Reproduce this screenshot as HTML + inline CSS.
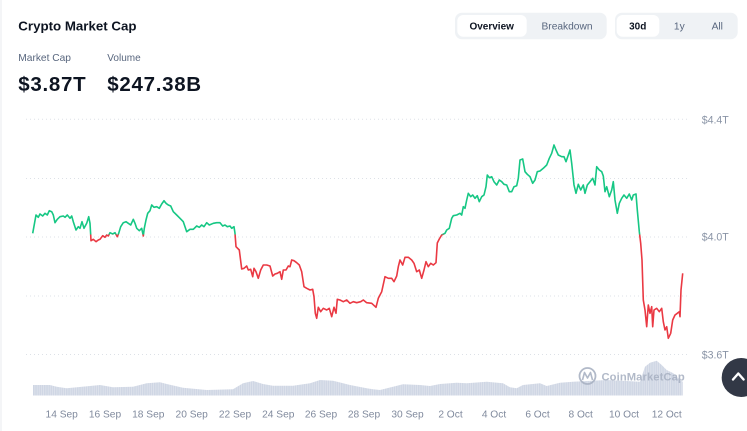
<!DOCTYPE html>
<html><head><meta charset="utf-8"><style>
html,body{margin:0;padding:0;background:#fff;}
body{width:747px;height:431px;overflow:hidden;position:relative;}
svg{position:absolute;left:0;top:0;font-family:"Liberation Sans",Arial,sans-serif;}
</style></head><body>
<svg width="747" height="431" viewBox="0 0 747 431" xmlns="http://www.w3.org/2000/svg">
<defs>
<clipPath id="above"><rect x="0" y="0" width="747" height="234.5"/></clipPath>
<clipPath id="below"><rect x="0" y="234.5" width="747" height="200"/></clipPath>
<pattern id="bars" width="2.2" height="10" patternUnits="userSpaceOnUse"><rect width="2.2" height="10" fill="#cfd6e4"/><rect x="1.6" width="0.6" height="10" fill="#e4e8f0"/></pattern>
</defs>
<rect x="0" y="0" width="2" height="431" fill="#f4f5f7"/>
<!-- header -->
<text x="18.3" y="30.7" font-size="13.3" font-weight="bold" fill="#0d1421">Crypto Market Cap</text>
<text x="18.3" y="61" font-size="10.2" fill="#58667e">Market Cap</text>
<text x="107.3" y="61" font-size="10" fill="#58667e">Volume</text>
<text x="18.3" y="91" font-size="20.5" font-weight="bold" letter-spacing="0.7" fill="#0d1421">$3.87T</text>
<text x="107.3" y="91" font-size="20.5" font-weight="bold" letter-spacing="0.7" fill="#0d1421">$247.38B</text>
<!-- toggles -->
<rect x="455" y="12.7" width="151.7" height="26.6" rx="7" fill="#eff2f5"/>
<rect x="457.3" y="15" width="69.4" height="21.7" rx="6" fill="#fff"/>
<text x="491.7" y="29.5" font-size="10" font-weight="bold" text-anchor="middle" fill="#0d1421">Overview</text>
<text x="567" y="29.5" font-size="10.2" text-anchor="middle" fill="#58667e">Breakdown</text>
<rect x="615" y="12.7" width="122.7" height="26.6" rx="7" fill="#eff2f5"/>
<rect x="616.7" y="15" width="42.6" height="21.7" rx="6" fill="#fff"/>
<text x="637.7" y="29.5" font-size="10" font-weight="bold" text-anchor="middle" fill="#0d1421">30d</text>
<text x="679.3" y="29.5" font-size="10.2" text-anchor="middle" fill="#58667e">1y</text>
<text x="717.3" y="29.5" font-size="10.2" text-anchor="middle" fill="#58667e">All</text>
<!-- grid -->
<g stroke="#dde1e7" stroke-width="1" stroke-dasharray="1 3">
<line x1="26" y1="119.3" x2="690" y2="119.3"/>
<line x1="26" y1="178.5" x2="690" y2="178.5"/>
<line x1="26" y1="237" x2="690" y2="237"/>
<line x1="26" y1="296" x2="690" y2="296"/>
<line x1="26" y1="354.5" x2="690" y2="354.5"/>
</g>
<g font-size="10.6" fill="#8a94a6">
<text x="701.7" y="123.3">$4.4T</text>
<text x="701.7" y="240.7">$4.0T</text>
<text x="701.7" y="358.3">$3.6T</text>
</g>
<!-- volume -->
<path fill="url(#bars)" d="M33,395.5 L33,385 L50,385 L56.7,386.7 L66.7,388.3 L90,386 L100,385 L113,387.3 L133,386.7 L146.7,383.3 L160,382.3 L166.7,384 L183,387.7 L206.7,390 L233,389.3 L243,383.3 L253,381 L263,384 L273,385.7 L293,385.7 L310,383.3 L320,380 L333,380.7 L350,385 L366.7,388.3 L373,389.3 L380,390 L393,386.7 L403,384.3 L420,385 L430,386 L440,384 L456.7,382.7 L466.7,383.3 L486.7,381.7 L503,383.3 L510,387.3 L516.7,388.3 L523,385 L540,383.3 L546.7,386 L560,382.7 L573,381.7 L606.7,380 L640,381.7 L645,366.7 L650,362.7 L656.7,360.7 L661.7,365 L666.7,370 L673.3,373.3 L680,380 L682.7,381.7 L682.7,395.5 Z"/>
<!-- watermark -->
<g opacity="0.9">
<circle cx="587.5" cy="376" r="8" fill="none" stroke="#a9b2c3" stroke-width="1.8"/>
<path d="M582.5,380 L584.5,372.5 L587.5,378 L590.5,372.5 L592.5,380" fill="none" stroke="#a9b2c3" stroke-width="1.6" stroke-linejoin="round"/>
<text x="601.5" y="380.5" font-size="11.2" font-weight="bold" fill="#a9b2c3" letter-spacing="0.1">CoinMarketCap</text>
</g>
<!-- line -->
<g id="ln">
<path id="pth" fill="none" stroke-width="1.6" stroke-linejoin="round" d="M32.7,233.3 L36,215 L38.3,217.3 L40,214 L42.7,216 L45,213.3 L47.3,215 L49.3,210.7 L51.7,211.7 L53.3,215 L55,222.7 L57.3,219.3 L60,216.7 L63.3,216 L65,217.3 L67.3,215 L70,218.3 L71.7,216 L73.3,221.7 L76,230 L78.3,226.7 L80,228.3 L82,221.7 L84,228.3 L86.7,223.3 L88.7,216.7 L90,223.3 L90.7,235 L91,240.7 L93.3,239.3 L96,241.7 L98.3,240 L100,239.3 L102.7,235.7 L105,237.3 L106.7,235 L108.3,236 L110,232.7 L112.7,234 L115,232.7 L117.3,236.7 L118.7,233.3 L120.7,226.7 L123.3,222.7 L126,221.7 L128.3,223.3 L130.7,225 L133.3,219.3 L135,223.3 L136.7,228.3 L139.3,230.7 L141.7,228.3 L143.3,236 L144.3,228.3 L146,220 L147.7,213.3 L150,210.7 L151.7,205 L154,207.3 L156.7,206.7 L159.3,208.3 L161.7,204 L164,200.7 L166,203.3 L168.3,205 L170.7,206 L173.3,211.7 L176.7,215 L180,218.3 L183.3,221.7 L185,226.7 L186.7,231.7 L190,229.3 L193.3,229.3 L196.7,226 L199.3,227.3 L201.7,225 L204,226.7 L206.7,222.7 L209.3,225 L213.3,223.3 L216.7,222.7 L220,222.7 L222.7,226 L225,225 L227.3,226.7 L230,226 L231.7,228.3 L234,226.7 L235,233.3 L236,246.7 L239.3,250 L241.7,269 L244,268.3 L246.7,266 L248.3,270 L250.7,269.3 L252.7,276.7 L254,268.3 L256,271.7 L258.3,278.3 L260.7,270 L263.3,265 L266.7,265 L270,266 L272.7,276 L275,274 L277.3,273.3 L280,271.7 L281.7,279.3 L283.3,270 L286,270 L288.3,266 L290,266.7 L291.7,260 L294,260.7 L296.7,262.7 L299.3,265 L301.7,271.7 L304,286.7 L306.7,288.3 L310,290 L312.7,289.3 L314,296.7 L315.3,313.3 L316.7,318.3 L318.3,307.3 L320.7,311.7 L323.3,308.3 L326.7,310 L329.3,308.3 L331.7,316.7 L334,307.3 L336,313.3 L337.3,299.3 L340,300 L343.3,301.7 L346.7,300 L350,303.3 L353.3,301.7 L356.7,302.7 L360.7,301.7 L363.3,300 L366.7,302.7 L371.7,303.3 L376,307.3 L378.3,298.3 L381.7,291.7 L385,276.7 L388.3,278.3 L391.7,278.3 L394,281.7 L396.7,276 L398.3,266.7 L400,260 L402.7,265 L405,257.3 L408.3,257.3 L411.7,260 L414,263.3 L416.7,271.7 L419.3,270 L421.7,278.3 L424,270 L426,261.7 L428.3,266.7 L430.7,263.3 L433.3,265 L436,262.7 L437.3,243 L439.3,239 L441.7,235 L445,233.3 L446.7,230 L449.3,228.3 L451.7,218.3 L453.3,215.7 L456.7,215 L460,213.3 L461.7,215 L463.3,206.7 L465,208.3 L466.7,200 L468.3,193.3 L470.7,196.7 L472.7,195 L475,198.3 L477.3,195.7 L479.3,201.7 L481.7,196.7 L484,195 L486,186.7 L487.3,175 L489.3,177.7 L491.7,176.7 L494,181.7 L496.7,185 L499.3,180 L501.7,181.7 L504,184.3 L506.7,185 L509.3,191.7 L511.7,191.7 L514,186.7 L516.7,185.7 L518.3,178.3 L520,160 L522.7,159 L525,171.7 L527.3,174.3 L530,176.7 L532.7,183.3 L535,180 L537.3,171.7 L540,171 L543.3,168.3 L546.7,165 L549.3,158.3 L551.7,153.3 L554,145 L556,150 L558.3,155 L561.7,156.7 L564,156.7 L566,161.7 L568.3,155 L570,150 L571.7,163.3 L574,185 L576,193.3 L578.3,184.3 L580.7,190 L583.3,185 L585,193.3 L587.3,185 L590,181.7 L592.7,178.3 L595,185 L596.7,166.7 L599.3,170 L601.7,171.7 L603.3,176 L605,191.7 L606.7,186.7 L609.3,196.7 L611.7,190 L613.3,181.7 L615,200 L617.3,213.3 L619.3,203.3 L621.7,198.3 L624,195 L626.7,198.3 L629.3,194 L631.7,200 L633.3,195 L636,194 L637.3,210 L639.3,231.7 L640.7,243.3 L642,260 L643.3,300 L645,310 L646.7,326.7 L648.3,305 L650,313.3 L651.7,306.7 L652.7,326.7 L654,310 L656.7,308.3 L659.3,311.7 L661.7,308.3 L663.3,321.7 L665,330 L666.7,326.7 L668.3,338.3 L670.7,333.3 L672.7,320 L675,315 L677.3,313.3 L679.3,311.7 L680,316.7 L681,290 L682.7,273.3"/>
</g>
<use href="#pth" stroke="#16c784" clip-path="url(#above)"/>
<use href="#pth" stroke="#ea3943" clip-path="url(#below)"/>
<!-- x labels -->
<g font-size="10.2" fill="#808a9d" text-anchor="middle">
<text x="61.7" y="417.3">14 Sep</text>
<text x="105" y="417.3">16 Sep</text>
<text x="148.3" y="417.3">18 Sep</text>
<text x="191.7" y="417.3">20 Sep</text>
<text x="235" y="417.3">22 Sep</text>
<text x="278.3" y="417.3">24 Sep</text>
<text x="321" y="417.3">26 Sep</text>
<text x="364" y="417.3">28 Sep</text>
<text x="407.5" y="417.3">30 Sep</text>
<text x="450.5" y="417.3">2 Oct</text>
<text x="494" y="417.3">4 Oct</text>
<text x="537.5" y="417.3">6 Oct</text>
<text x="580.7" y="417.3">8 Oct</text>
<text x="624" y="417.3">10 Oct</text>
<text x="666.7" y="417.3">12 Oct</text>
</g>
<!-- scroll to top -->
<circle cx="741.2" cy="377.5" r="19.5" fill="#323846"/>
<polyline points="733,379.5 738.3,373.5 743.6,379.5" fill="none" stroke="#fff" stroke-width="2.4" stroke-linecap="round" stroke-linejoin="round"/>
</svg>
</body></html>
